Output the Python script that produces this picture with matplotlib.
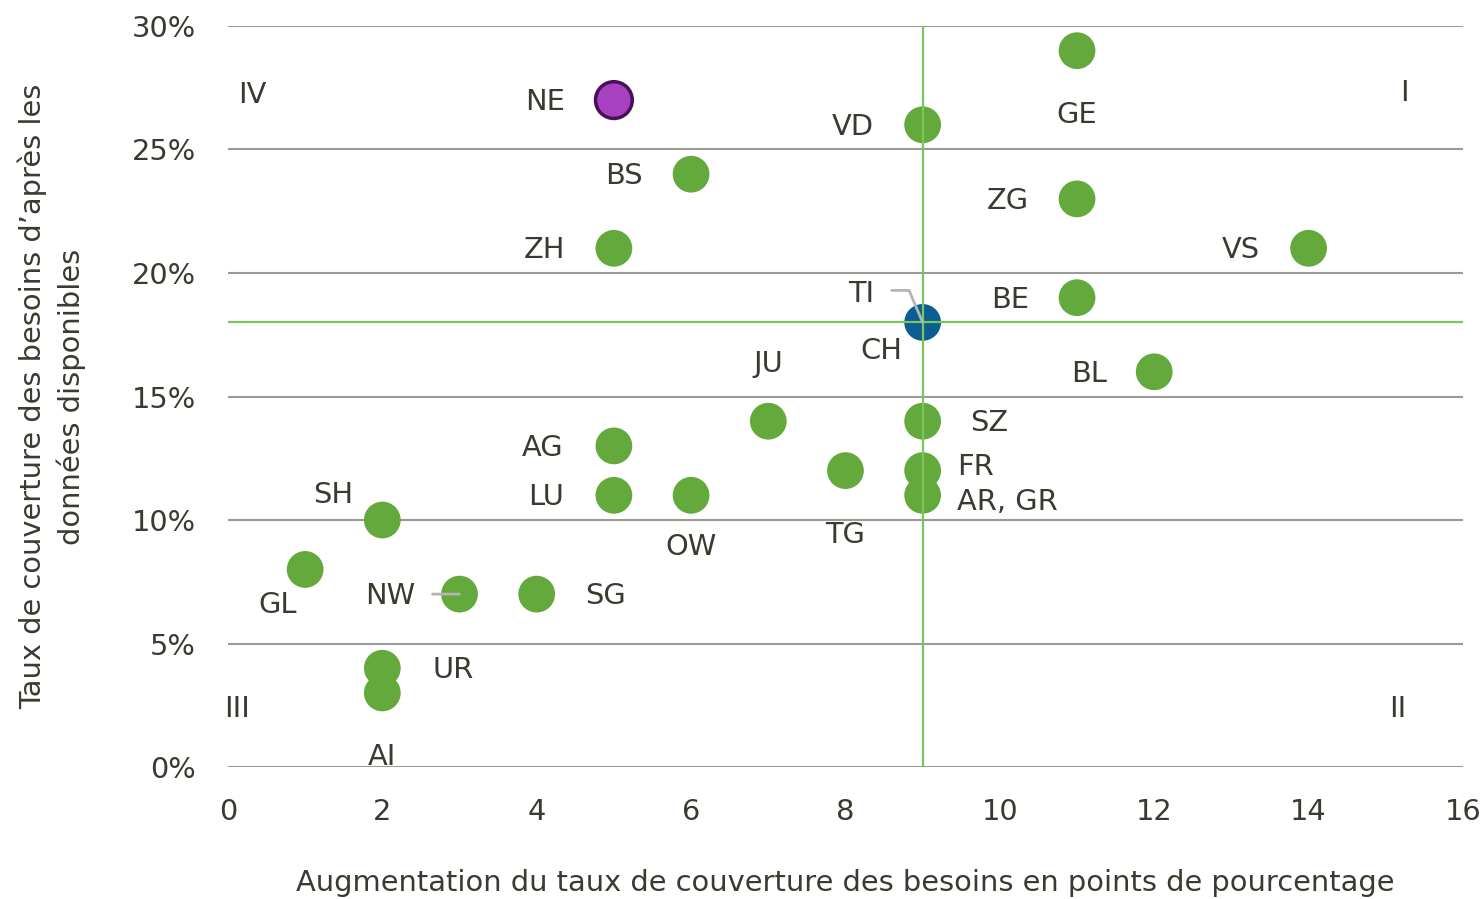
"""Couverture des besoins par canton: niveau actuel vs augmentation."""

import matplotlib
matplotlib.use("Agg")
import matplotlib.pyplot as plt

# canton, augmentation (points), taux de couverture (%)
cantons = ["GE", "NE", "VD", "BS", "ZG", "ZH", "VS", "BE", "CH", "BL", "JU", "SZ",
           "AG", "TG", "FR", "AR, GR", "LU", "OW", "SH", "GL", "NW", "SG", "UR", "AI"]
augmentation = [11, 5, 9, 6, 11, 5, 14, 11, 9, 12, 7, 9,
                5, 8, 9, 9, 5, 6, 2, 1, 3, 4, 2, 2]
couverture = [29, 27, 26, 24, 23, 21, 21, 19, 18, 16, 14, 14,
              13, 12, 12, 11, 11, 11, 10, 8, 7, 7, 4, 3]
ti_point = (9, 18)  # TI shares its position with CH
ref_x, ref_y = 9, 18

# label offsets in pixels (dx, dy) relative to the point
label_offsets = {
    "GE": (0, -62), "NE": (-69, 0), "VD": (-70, 0), "BS": (-67, 0), "ZG": (-69, 0),
    "ZH": (-69, 0), "VS": (-68, 0), "BE": (-67, 0), "CH": (-41, -27), "BL": (-65, 0),
    "JU": (0, 59), "SZ": (67, 0), "AG": (-71, 0), "TG": (0, -62), "FR": (53, 6),
    "AR, GR": (85, -5), "LU": (-68, 0), "OW": (0, -50), "SH": (-49, 27),
    "GL": (-28, -34), "NW": (-69, 0), "SG": (69, 0), "UR": (71, 0), "AI": (0, -62),
}

TEXT = "#3b3a30"
GRID = "#9a9b94"
GREEN = "#63a93b"
LINE_GREEN = "#7cc45c"
BLUE = "#0b5e92"
PURPLE = "#a741bf"
PURPLE_EDGE = "#4a0f57"
LEADER = "#b4b4b4"
FS = 20.8
TXT_DY = -2  # nudge labels down a little

plt.rcParams["font.family"] = ["DejaVu Sans"]

fig = plt.figure(figsize=(14.83, 8.99), dpi=100)
ax = fig.add_axes([0.1537, 0.1468, 0.8328, 0.8243])

colors = []
edges = []
for c in cantons:
    if c == "CH":
        colors.append(BLUE)
        edges.append(BLUE)
    elif c == "NE":
        colors.append(PURPLE)
        edges.append(PURPLE_EDGE)
    else:
        colors.append(GREEN)
        edges.append(GREEN)

ax.scatter(augmentation, couverture, s=700, c=colors, edgecolors=edges,
           linewidths=[2.5 if c == "NE" else 0 for c in cantons], zorder=3)

ax.axvline(ref_x, color=LINE_GREEN, lw=1.6, zorder=4)
ax.axhline(ref_y, color=LINE_GREEN, lw=1.6, zorder=4)

for c, x, y in zip(cantons, augmentation, couverture):
    dx, dy = label_offsets[c]
    ax.annotate(c, (x, y), xytext=(dx, dy + TXT_DY), textcoords="offset pixels",
                ha="center", va="center", fontsize=FS, color=TEXT, zorder=5)

# TI label with leader line into CH point
ax.annotate("TI", ti_point, xytext=(-61, 30 + TXT_DY), textcoords="offset pixels",
            ha="center", va="center", fontsize=FS, color=TEXT, zorder=5)
ax.annotate("", xy=ti_point, xytext=(-31, 32), textcoords="offset pixels",
            arrowprops=dict(arrowstyle="-", color=LEADER, lw=2, shrinkA=0, shrinkB=0,
                            connectionstyle="angle,angleA=0,angleB=113,rad=0"),
            zorder=6)
# NW leader
nw = cantons.index("NW")
ax.annotate("", xy=(augmentation[nw], couverture[nw]), xytext=(-27, 0),
            textcoords="offset pixels",
            arrowprops=dict(arrowstyle="-", color=LEADER, lw=2, shrinkA=0, shrinkB=0),
            zorder=6)

# quadrant labels
for txt, qx, qy in [("IV", 0.020, 0.907), ("I", 0.953, 0.910),
                    ("III", 0.007, 0.078), ("II", 0.947, 0.078)]:
    ax.text(qx, qy, txt, transform=ax.transAxes, ha="center", va="center",
            fontsize=FS, color=TEXT)

ax.set_xlim(0, 16)
ax.set_ylim(0, 30)
ax.set_xticks(range(0, 17, 2))
ax.set_yticks(range(0, 31, 5))
ax.set_yticklabels([f"{v}%" for v in range(0, 31, 5)])
ax.tick_params(length=0, labelsize=FS, labelcolor=TEXT)
ax.tick_params(axis="x", pad=22)
ax.tick_params(axis="y", pad=23)
ax.yaxis.grid(True, color=GRID, lw=1.5)
ax.set_axisbelow(True)
for s in ax.spines.values():
    s.set_visible(False)

ax.set_xlabel("Augmentation du taux de couverture des besoins en points de pourcentage",
              fontsize=FS, color=TEXT, labelpad=31)
ax.set_ylabel("Taux de couverture des besoins d’après les\ndonnées disponibles",
              fontsize=FS, color=TEXT, labelpad=33, linespacing=1.4)

fig.savefig("out.png", dpi=100)
